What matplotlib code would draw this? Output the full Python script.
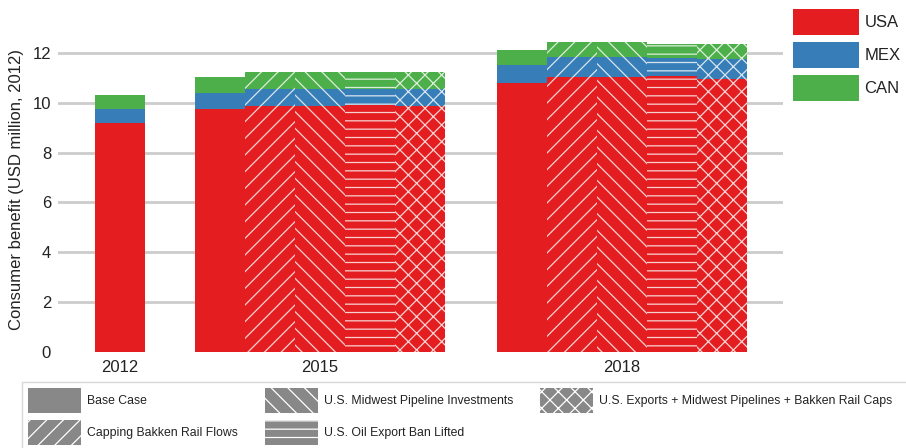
import matplotlib
matplotlib.use('Agg')
import matplotlib.pyplot as plt
from matplotlib.patches import Patch, Rectangle
import numpy as np

plt.rcParams['font.family'] = ['Liberation Sans', 'DejaVu Sans']
plt.rcParams['hatch.linewidth'] = 0.9

# ---- data ----
years = ['2012', '2015', '2018']
scenarios = ['Base Case', 'Capping Bakken Rail Flows', 'U.S. Midwest Pipeline Investments',
             'U.S. Oil Export Ban Lifted', 'U.S. Exports + Midwest Pipelines + Bakken Rail Caps']
countries = ['USA', 'MEX', 'CAN']

usa_2012 = [9.20]
mex_2012 = [0.56]
can_2012 = [0.57]

usa_2015 = [9.74, 9.88, 9.88, 9.92, 9.86]
mex_2015 = [0.66, 0.68, 0.68, 0.64, 0.70]
can_2015 = [0.62, 0.66, 0.66, 0.66, 0.66]

usa_2018 = [10.79, 11.02, 11.02, 11.06, 10.96]
mex_2018 = [0.71, 0.80, 0.80, 0.73, 0.80]
can_2018 = [0.60, 0.60, 0.60, 0.58, 0.61]

# ---- styles ----
country_colors = ['#e41e20', '#377eb8', '#4daf4a']
hatches = ['', '//', '\\\\', '--', 'xx']
group_centers = [0, 4, 10.04]
bar_w = 1.0
hatch_col = (1, 1, 1, 0.8)
text_col = '#222222'

data = [
    (usa_2012, mex_2012, can_2012),
    (usa_2015, mex_2015, can_2015),
    (usa_2018, mex_2018, can_2018),
]

fig = plt.figure(figsize=(9.06, 4.48), dpi=100)
ax = fig.add_axes([58/906, 1-352/448, 725/906, (352-28)/448])

for gc, (usa, mex, can) in zip(group_centers, data):
    n = len(usa)
    xs = gc + (np.arange(n) - (n-1)/2) * bar_w
    usa = np.array(usa); mex = np.array(mex); can = np.array(can)
    for i in range(n):
        h = hatches[i]
        bottoms = [0, usa[i], usa[i] + mex[i]]
        vals = [usa[i], mex[i], can[i]]
        for v, b, c in zip(vals, bottoms, country_colors):
            ax.bar(xs[i], v, bottom=b, width=bar_w, color=c, hatch=h,
                   edgecolor=hatch_col, linewidth=0, zorder=2)

ax.set_xlim(-1.24, 13.26)
ax.set_ylim(0, 13)
ax.set_yticks([0, 2, 4, 6, 8, 10, 12])
ax.set_xticks(group_centers)
ax.set_xticklabels(years)
ax.tick_params(axis='both', length=0, labelsize=12, colors=text_col)
ax.tick_params(axis='x', pad=5.5)
ax.tick_params(axis='y', pad=5)
for s in ax.spines.values():
    s.set_visible(False)
ax.grid(axis='y', color='#cccccc', linewidth=2.0, zorder=0)
ax.set_axisbelow(True)
ax.yaxis.get_gridlines()[0].set_visible(False)
ax.set_ylabel('Consumer benefit (USD million, 2012)', fontsize=12, color=text_col)
ax.yaxis.set_label_coords(-0.047, 0.5)

# country legend
c_handles = [Patch(facecolor=c, edgecolor='none') for c in country_colors]
fig.legend(c_handles, countries, loc='upper left', bbox_to_anchor=(793/906, 1-9/448),
           frameon=False, fontsize=12, handlelength=3.96, handleheight=2.02,
           labelspacing=0.42, handletextpad=0.33, borderpad=0, borderaxespad=0,
           labelcolor=text_col)

# scenario legend
fig.patches.append(Rectangle((22/906, -0.1), 1.0, 0.1 + 1 - 382/448, transform=fig.transFigure,
                             facecolor='white', edgecolor='#d8d8d8', linewidth=1, zorder=0))
s_handles = [Patch(facecolor='#888888', edgecolor='white', hatch=h, linewidth=0) for h in hatches]
fig.legend(s_handles, scenarios, loc='upper left', bbox_to_anchor=(28/906, 1-388/448),
           frameon=False, fontsize=8.85, ncol=3, handlelength=4.3, handleheight=2.74,
           labelspacing=0.57, handletextpad=0.49, columnspacing=2.2, borderpad=0,
           borderaxespad=0, labelcolor=text_col)

fig.savefig('out.png', dpi=100)
